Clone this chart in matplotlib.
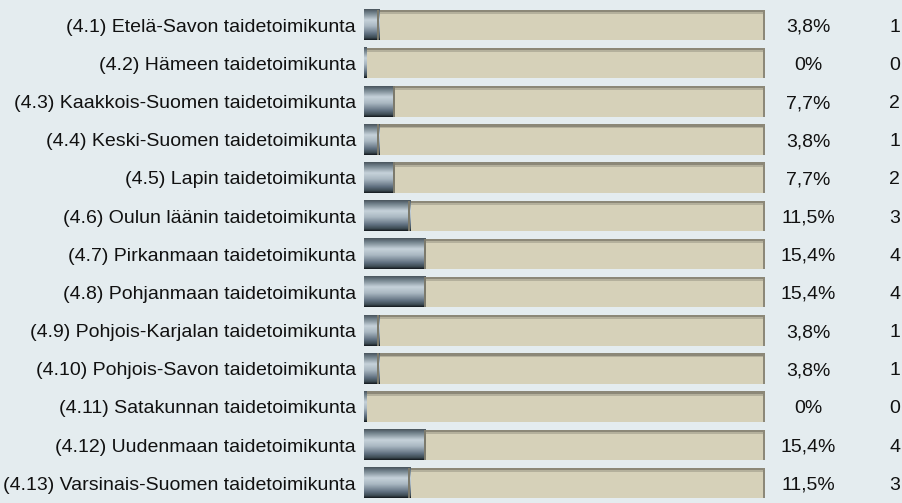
import numpy as numpy
import matplotlib
matplotlib.use("Agg")
import matplotlib.pyplot as plt
from matplotlib.colors import LinearSegmentedColormap

labels = [
    "(4.1) Etelä-Savon taidetoimikunta",
    "(4.2) Hämeen taidetoimikunta",
    "(4.3) Kaakkois-Suomen taidetoimikunta",
    "(4.4) Keski-Suomen taidetoimikunta",
    "(4.5) Lapin taidetoimikunta",
    "(4.6) Oulun läänin taidetoimikunta",
    "(4.7) Pirkanmaan taidetoimikunta",
    "(4.8) Pohjanmaan taidetoimikunta",
    "(4.9) Pohjois-Karjalan taidetoimikunta",
    "(4.10) Pohjois-Savon taidetoimikunta",
    "(4.11) Satakunnan taidetoimikunta",
    "(4.12) Uudenmaan taidetoimikunta",
    "(4.13) Varsinais-Suomen taidetoimikunta",
]
percents = [3.8, 0, 7.7, 3.8, 7.7, 11.5, 15.4, 15.4, 3.8, 3.8, 0, 15.4, 11.5]
pct_labels = ["3,8%", "0%", "7,7%", "3,8%", "7,7%", "11,5%", "15,4%",
              "15,4%", "3,8%", "3,8%", "0%", "15,4%", "11,5%"]
counts = [1, 0, 2, 1, 2, 3, 4, 4, 1, 1, 0, 4, 3]

BG = "#e4ecef"
TRACK = "#d6d1b9"
EDGE = "#8c8878"

plt.rcParams['font.family'] = ['Liberation Sans', 'DejaVu Sans']

fig = plt.figure(figsize=(9.03, 5.03), dpi=100, facecolor=BG)
ax = fig.add_axes([364 / 903, 0.0018, 401 / 903, 0.9865])
ax.set_facecolor(BG)

metal = LinearSegmentedColormap.from_list("metal", [
    (0.0, "#4a565e"), (0.12, "#72828c"), (0.35, "#c6d2da"),
    (0.55, "#aab8c2"), (0.8, "#607080"), (0.93, "#3c4a52"), (1.0, "#141a1e")])
grad = numpy.linspace(0, 1, 64).reshape(-1, 1)

h = 0.80
for i, p in enumerate(percents):
    top = i - h / 2
    bot = i + h / 2
    # track
    ax.add_patch(plt.Rectangle((0, top), 100, h, facecolor=TRACK, edgecolor="none", zorder=1))
    ax.add_patch(plt.Rectangle((0, top), 100, 0.06, facecolor=EDGE, edgecolor="none", zorder=2))
    ax.add_patch(plt.Rectangle((0, top + 0.06), 100, 0.05, facecolor="#b4b09c", edgecolor="none", zorder=2))
    ax.add_patch(plt.Rectangle((99.4, top), 0.6, h, facecolor=EDGE, edgecolor="none", zorder=2))
    ax.add_patch(plt.Rectangle((0, top + 0.12), 0.5, h - 0.12, facecolor=EDGE, edgecolor="none", zorder=2))
    # metallic fill
    w = max(p, 0.5)
    ax.imshow(grad, cmap=metal, aspect="auto", extent=(0, w, bot, top),
              zorder=3, interpolation="bilinear")
    if p > 0:
        ax.add_patch(plt.Rectangle((w - 0.5, top), 0.5, h, facecolor="#7c7a6c", edgecolor="none", zorder=4))
    ty = i + 0.06
    ax.text(-2.0, ty, labels[i], ha="right", va="center", fontsize=14, color="#111111", clip_on=False)
    ax.text(110.7, ty, pct_labels[i], ha="center", va="center", fontsize=14, color="#111111", clip_on=False)
    ax.text(132.4, ty, str(counts[i]), ha="center", va="center", fontsize=14, color="#111111", clip_on=False)

ax.set_xlim(0, 100)
ax.set_ylim(12.5, -0.5)
ax.axis("off")

fig.savefig("out.png", dpi=100, facecolor=BG)
